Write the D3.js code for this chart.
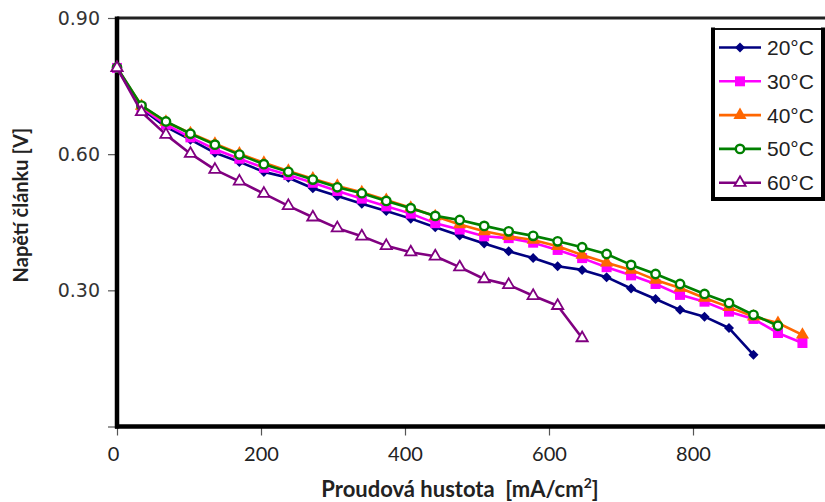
<!DOCTYPE html>
<html>
<head>
<meta charset="utf-8">
<script src="https://cdn.jsdelivr.net/npm/d3@7"></script>
<style>
  body { margin: 0; background: #fff; }
  svg { display: block; }
</style>
</head>
<body>
<div id="chart"></div>
<script>
// current density [mA/cm2]
const current = [0, 34, 68, 102, 136, 170, 204, 238, 272, 306, 340, 374, 408, 442, 476,
  510, 544, 578, 612, 646, 680, 714, 748, 782, 816, 850, 884, 918, 952];

// cell voltage [V] per temperature
const v20 = [0.790, 0.700, 0.660, 0.632, 0.603, 0.583, 0.561, 0.548, 0.525, 0.508, 0.491,
  0.475, 0.458, 0.439, 0.421, 0.403, 0.386, 0.371, 0.353, 0.345, 0.329, 0.304, 0.281,
  0.257, 0.242, 0.217, 0.158];
const v30 = [0.790, 0.703, 0.665, 0.637, 0.611, 0.590, 0.570, 0.554, 0.537, 0.519, 0.502,
  0.485, 0.469, 0.448, 0.434, 0.419, 0.415, 0.405, 0.389, 0.371, 0.351, 0.333, 0.314,
  0.290, 0.275, 0.253, 0.237, 0.206, 0.184];
const v40 = [0.790, 0.706, 0.671, 0.646, 0.623, 0.601, 0.581, 0.563, 0.546, 0.530, 0.516,
  0.499, 0.482, 0.463, 0.445, 0.430, 0.419, 0.411, 0.397, 0.378, 0.361, 0.345, 0.323,
  0.305, 0.283, 0.263, 0.242, 0.228, 0.202];
const v50 = [0.791, 0.707, 0.672, 0.645, 0.621, 0.599, 0.578, 0.561, 0.544, 0.527, 0.514,
  0.497, 0.481, 0.464, 0.455, 0.442, 0.430, 0.420, 0.408, 0.395, 0.380, 0.356, 0.336,
  0.314, 0.292, 0.272, 0.246, 0.222];
const v60 = [0.790, 0.693, 0.643, 0.601, 0.566, 0.540, 0.513, 0.486, 0.461, 0.437, 0.419,
  0.398, 0.384, 0.375, 0.351, 0.325, 0.312, 0.288, 0.266, 0.195];

const seriesNames = ["20°C", "30°C", "40°C", "50°C", "60°C"];
const seriesValues = [v20, v30, v40, v50, v60];
const seriesColors = ["#000080", "#ff00ff", "#ff6600", "#008000", "#800080"];
const seriesMarkers = ["diamond", "square", "triangle", "circle", "opentriangle"];

const xTicks = [0, 200, 400, 600, 800];
const yTicks = [0, 0.30, 0.60, 0.90];

const width = 825;
const height = 502;
const plot = { left: 117, top: 18, right: 837, bottom: 426.5 };

const svg = d3.select("#chart")
  .append("svg")
  .attr("width", width)
  .attr("height", height);

const x = d3.scaleLinear().domain([0, 1000]).range([plot.left, plot.right]);
const y = d3.scaleLinear().domain([0, 0.9]).range([plot.bottom, plot.top]);

// axes (ticks only, the frame is drawn separately)
const xAxis = svg.append("g")
  .attr("transform", `translate(0, ${plot.bottom})`)
  .call(d3.axisBottom(x).tickValues(xTicks).tickSize(9).tickSizeOuter(0)
    .tickFormat(d3.format("d")));
xAxis.select(".domain").remove();
xAxis.selectAll("line").attr("stroke", "#555").attr("stroke-width", 1.2);
xAxis.selectAll("text")
  .attr("y", 20)
  .attr("dy", "0.71em")
  .attr("dx", d => d === 0 ? -4 : 0)
  .style("font-family", "Lato, 'Liberation Sans', sans-serif")
  .style("font-size", "20px")
  .attr("fill", "#222");

const yAxis = svg.append("g")
  .attr("transform", `translate(${plot.left}, 0)`)
  .call(d3.axisLeft(y).tickValues(yTicks).tickSize(9).tickSizeOuter(0)
    .tickFormat(d => d === 0 ? "" : d3.format(".2f")(d)));
yAxis.select(".domain").remove();
yAxis.selectAll("line").attr("stroke", "#555").attr("stroke-width", 1.2);
yAxis.selectAll("text")
  .attr("x", -17)
  .style("font-family", "'DejaVu Sans', sans-serif")
  .style("font-size", "19px")
  .attr("fill", "#333");

// plot frame
svg.append("line")
  .attr("x1", plot.left).attr("x2", plot.right)
  .attr("y1", plot.top).attr("y2", plot.top)
  .attr("stroke", "#222").attr("stroke-width", 3);
svg.append("line")
  .attr("x1", plot.left).attr("x2", plot.left)
  .attr("y1", plot.top - 1.5).attr("y2", plot.bottom + 2)
  .attr("stroke", "#000").attr("stroke-width", 4.5);
svg.append("line")
  .attr("x1", plot.left - 2).attr("x2", plot.right)
  .attr("y1", plot.bottom).attr("y2", plot.bottom)
  .attr("stroke", "#000").attr("stroke-width", 4.5);

// axis titles
const xTitle = svg.append("text")
  .attr("x", 460)
  .attr("y", 497)
  .attr("text-anchor", "middle")
  .style("font-family", "Lato, 'Liberation Sans', sans-serif")
  .style("font-weight", "bold")
  .style("font-size", "22px")
  .style("white-space", "pre")
  .attr("fill", "#222");
xTitle.append("tspan").text("Proudová hustota  [mA/cm");
xTitle.append("tspan")
  .attr("dy", -9)
  .style("font-size", "14px")
  .text("2");
xTitle.append("tspan")
  .attr("dy", 9)
  .text("]");

svg.append("text")
  .attr("transform", "rotate(-90)")
  .attr("x", -205)
  .attr("y", 28)
  .attr("text-anchor", "middle")
  .style("font-family", "Lato, 'Liberation Sans', sans-serif")
  .style("font-weight", "bold")
  .style("font-size", "20px")
  .attr("fill", "#222")
  .text("Napětí článku [V]");

function drawMarker(g, type, color, cx, cy) {
  if (type === "diamond") {
    g.append("path")
      .attr("d", d3.symbol(d3.symbolDiamond2, 64)())
      .attr("transform", `translate(${cx},${cy})`)
      .attr("fill", color);
  } else if (type === "square") {
    g.append("rect")
      .attr("x", cx - 5).attr("y", cy - 5)
      .attr("width", 10).attr("height", 10)
      .attr("fill", color);
  } else if (type === "triangle") {
    g.append("path")
      .attr("d", d3.symbol(d3.symbolTriangle, 75)())
      .attr("transform", `translate(${cx},${cy})`)
      .attr("fill", color);
  } else if (type === "circle") {
    g.append("circle")
      .attr("cx", cx).attr("cy", cy).attr("r", 4.2)
      .attr("fill", "#fff")
      .attr("stroke", color).attr("stroke-width", 2.4);
  } else {
    g.append("path")
      .attr("d", d3.symbol(d3.symbolTriangle, 55)())
      .attr("transform", `translate(${cx},${cy})`)
      .attr("fill", "#fff")
      .attr("stroke", color).attr("stroke-width", 1.8);
  }
}

// series
const line = d3.line()
  .x(d => x(d[0]))
  .y(d => y(d[1]));

seriesValues.forEach((vals, k) => {
  const pts = vals.map((v, i) => [current[i], v]);
  const g = svg.append("g").attr("class", "series");
  g.append("path")
    .datum(pts)
    .attr("d", line)
    .attr("fill", "none")
    .attr("stroke", seriesColors[k])
    .attr("stroke-width", 2.6)
    .attr("stroke-linejoin", "round");
  pts.forEach(p => drawMarker(g, seriesMarkers[k], seriesColors[k], x(p[0]), y(p[1])));
});

// legend
const legend = svg.append("g").attr("class", "legend");
legend.append("rect")
  .attr("x", 713).attr("y", 29)
  .attr("width", 110).attr("height", 170)
  .attr("fill", "#fff");
legend.append("path")
  .attr("d", "M713,29H823")
  .attr("stroke", "#111").attr("stroke-width", 2);
legend.append("path")
  .attr("d", "M713,27.5V199H823V27.5")
  .attr("fill", "none")
  .attr("stroke", "#000").attr("stroke-width", 4);

seriesNames.forEach((name, i) => {
  const ly = 47.5 + i * 33.8;
  const item = legend.append("g");
  item.append("line")
    .attr("x1", 719).attr("x2", 761)
    .attr("y1", ly).attr("y2", ly)
    .attr("stroke", seriesColors[i]).attr("stroke-width", 2.6);
  drawMarker(item, seriesMarkers[i], seriesColors[i], 740, ly);
  item.append("text")
    .attr("x", 767)
    .attr("y", ly)
    .attr("dy", "0.36em")
    .style("font-family", "'Liberation Sans', Arial, sans-serif")
    .style("font-size", "21px")
    .attr("fill", "#222")
    .text(name);
});
</script>
</body>
</html>
